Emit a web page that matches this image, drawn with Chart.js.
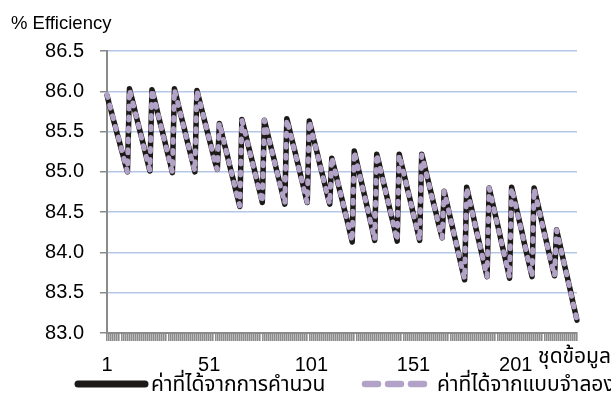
<!DOCTYPE html>
<html>
<head>
<meta charset="utf-8">
<script src="https://cdn.jsdelivr.net/npm/chart.js@4.4.1/dist/chart.umd.min.js"></script>
<style>
  html, body { margin: 0; padding: 0; background: #fff; }
  #wrap { width: 611px; height: 396px; position: relative; }
</style>
</head>
<body>
<div id="wrap"><canvas id="c" width="611" height="396"></canvas></div>
<script>
// ---- data ----
const yAxisTitle = '% Efficiency';
const xAxisTitle = 'ชุดข้อมูล';
const seriesNames = ['ค่าที่ได้จากการคำนวน', 'ค่าที่ได้จากแบบจำลอง'];
const xTickLabels = ['1', '51', '101', '151', '201'];
const yTicks = [83.0, 83.5, 84.0, 84.5, 85.0, 85.5, 86.0, 86.5];

const calculated = [
  85.95, 85.85, 85.76, 85.66, 85.57, 85.47, 85.38, 85.28, 85.19, 85.09, 85.00,
  86.03, 85.93, 85.83, 85.72, 85.62, 85.52, 85.42, 85.32, 85.21, 85.11, 85.01,
  86.02, 85.92, 85.82, 85.71, 85.61, 85.51, 85.41, 85.30, 85.20, 85.10, 84.99,
  86.03, 85.93, 85.82, 85.72, 85.62, 85.52, 85.41, 85.31, 85.21, 85.11, 85.00,
  86.01, 85.91, 85.81, 85.71, 85.61, 85.51, 85.41, 85.31, 85.21, 85.11, 85.03,
  85.60, 85.50, 85.39, 85.29, 85.19, 85.08, 84.98, 84.88, 84.77, 84.67, 84.57,
  85.65, 85.55, 85.45, 85.34, 85.24, 85.14, 85.04, 84.93, 84.83, 84.73, 84.62,
  85.64, 85.54, 85.43, 85.33, 85.23, 85.13, 85.02, 84.92, 84.82, 84.71, 84.60,
  85.66, 85.56, 85.45, 85.35, 85.25, 85.14, 85.04, 84.93, 84.83, 84.72, 84.62,
  85.63, 85.53, 85.42, 85.32, 85.22, 85.11, 85.01, 84.91, 84.80, 84.70, 84.60,
  85.17, 85.07, 84.97, 84.86, 84.76, 84.66, 84.55, 84.45, 84.35, 84.24, 84.13,
  85.26, 85.15, 85.04, 84.93, 84.82, 84.71, 84.60, 84.49, 84.38, 84.27, 84.15,
  85.22, 85.12, 85.01, 84.90, 84.80, 84.69, 84.58, 84.47, 84.37, 84.26, 84.14,
  85.22, 85.11, 85.01, 84.90, 84.79, 84.69, 84.58, 84.47, 84.37, 84.26, 84.15,
  85.22, 85.12, 85.01, 84.91, 84.80, 84.70, 84.59, 84.49, 84.38, 84.28, 84.18,
  84.76, 84.65, 84.54, 84.43, 84.32, 84.21, 84.10, 83.99, 83.88, 83.77, 83.66,
  84.81, 84.70, 84.59, 84.48, 84.36, 84.25, 84.14, 84.03, 83.92, 83.81, 83.70,
  84.80, 84.69, 84.58, 84.47, 84.36, 84.25, 84.13, 84.02, 83.91, 83.80, 83.68,
  84.81, 84.70, 84.59, 84.48, 84.37, 84.26, 84.14, 84.03, 83.92, 83.81, 83.70,
  84.80, 84.69, 84.58, 84.47, 84.36, 84.25, 84.14, 84.03, 83.92, 83.81, 83.71,
  84.28, 84.17, 84.06, 83.94, 83.83, 83.72, 83.61, 83.50, 83.38, 83.27, 83.16
];

const simulated = [
  85.96, 85.86, 85.76, 85.67, 85.57, 85.48, 85.38, 85.29, 85.19, 85.10, 85.00,
  86.02, 85.92, 85.82, 85.72, 85.62, 85.52, 85.41, 85.31, 85.21, 85.11, 85.02,
  86.02, 85.92, 85.81, 85.71, 85.61, 85.50, 85.40, 85.30, 85.20, 85.09, 85.00,
  86.02, 85.92, 85.82, 85.72, 85.61, 85.51, 85.41, 85.31, 85.20, 85.10, 85.01,
  86.01, 85.91, 85.81, 85.71, 85.61, 85.51, 85.41, 85.31, 85.20, 85.10, 85.03,
  85.61, 85.50, 85.40, 85.29, 85.19, 85.09, 84.98, 84.88, 84.78, 84.67, 84.58,
  85.64, 85.54, 85.44, 85.34, 85.23, 85.13, 85.03, 84.93, 84.82, 84.72, 84.62,
  85.64, 85.54, 85.43, 85.33, 85.22, 85.12, 85.02, 84.91, 84.81, 84.71, 84.61,
  85.65, 85.55, 85.45, 85.34, 85.24, 85.14, 85.03, 84.93, 84.82, 84.72, 84.62,
  85.63, 85.52, 85.42, 85.32, 85.21, 85.11, 85.01, 84.90, 84.80, 84.70, 84.60,
  85.18, 85.07, 84.97, 84.87, 84.76, 84.66, 84.56, 84.45, 84.35, 84.24, 84.14,
  85.25, 85.14, 85.03, 84.92, 84.81, 84.70, 84.60, 84.49, 84.38, 84.27, 84.16,
  85.22, 85.11, 85.01, 84.90, 84.79, 84.69, 84.58, 84.48, 84.37, 84.26, 84.15,
  85.21, 85.11, 85.00, 84.90, 84.79, 84.68, 84.58, 84.47, 84.36, 84.26, 84.15,
  85.21, 85.11, 85.00, 84.90, 84.80, 84.69, 84.59, 84.48, 84.38, 84.27, 84.18,
  84.76, 84.65, 84.54, 84.43, 84.32, 84.21, 84.10, 83.99, 83.88, 83.77, 83.67,
  84.80, 84.69, 84.58, 84.47, 84.36, 84.25, 84.14, 84.03, 83.92, 83.81, 83.70,
  84.80, 84.69, 84.58, 84.46, 84.35, 84.24, 84.13, 84.02, 83.91, 83.80, 83.69,
  84.80, 84.69, 84.58, 84.47, 84.36, 84.25, 84.14, 84.03, 83.92, 83.81, 83.70,
  84.79, 84.68, 84.57, 84.46, 84.35, 84.24, 84.13, 84.02, 83.91, 83.81, 83.71,
  84.28, 84.17, 84.05, 83.94, 83.83, 83.72, 83.61, 83.49, 83.38, 83.27, 83.16
];

// categories 1..N (data point number)
const categories = calculated.map((_, i) => String(i + 1));

// ---- styles ----
const latinFont = '"Liberation Sans", Arial, sans-serif';
const thaiFont = 'Tahoma, "Noto Sans Thai", "Noto Sans", "DejaVu Sans", sans-serif';
const calcColor = '#1c1a17';
const simColor = '#b3a2c7';

const decor = {
  id: 'decor',
  afterDraw(chart) {
    const ctx = chart.ctx;
    ctx.save();
    ctx.fillStyle = '#000';
    ctx.textBaseline = 'alphabetic';
    ctx.textAlign = 'left';
    ctx.font = '18.5px ' + latinFont;
    ctx.fillText(yAxisTitle, 11, 29);

    ctx.font = '21px ' + thaiFont;
    ctx.textAlign = 'right';
    ctx.fillText(xAxisTitle, 611, 363);

    // legend
    ctx.textAlign = 'left';
    ctx.lineCap = 'round';
    ctx.lineWidth = 7;
    ctx.strokeStyle = calcColor;
    ctx.setLineDash([]);
    ctx.beginPath(); ctx.moveTo(78, 384); ctx.lineTo(145, 384); ctx.stroke();
    ctx.fillText(seriesNames[0], 151, 391);

    ctx.lineWidth = 6.5;
    ctx.strokeStyle = simColor;
    ctx.setLineDash([13, 10]);
    ctx.beginPath(); ctx.moveTo(365, 384); ctx.lineTo(424, 384); ctx.stroke();
    ctx.setLineDash([]);
    ctx.fillText(seriesNames[1], 437, 391);
    ctx.restore();
  }
};

new Chart(document.getElementById('c'), {
  type: 'line',
  data: {
    labels: categories,
    datasets: [
      {
        label: seriesNames[0],
        data: calculated,
        borderColor: calcColor,
        borderWidth: 5.5,
        pointRadius: 0,
        tension: 0,
        borderJoinStyle: 'round',
        borderCapStyle: 'round',
        order: 2
      },
      {
        label: seriesNames[1],
        data: simulated,
        borderColor: simColor,
        borderWidth: 5,
        borderDash: [3, 8],
        pointRadius: 0,
        tension: 0,
        borderJoinStyle: 'round',
        borderCapStyle: 'round',
        order: 1
      }
    ]
  },
  options: {
    responsive: false,
    animation: false,
    devicePixelRatio: 1,
    layout: { padding: { left: 0, right: 34, top: 51, bottom: 0 } },
    plugins: {
      legend: { display: false },
      tooltip: { enabled: false },
      title: { display: false }
    },
    scales: {
      x: {
        type: 'category',
        offset: false,
        afterFit(scale) { scale.height = 63; },
        border: { display: true, color: '#8a8a8a', width: 2 },
        grid: {
          drawOnChartArea: false,
          drawTicks: true,
          tickLength: 8,
          tickColor: '#8c8c8c',
          lineWidth: 1.6,
          offset: false
        },
        ticks: {
          autoSkip: false,
          maxRotation: 0,
          minRotation: 0,
          padding: 12,
          color: '#000',
          font: { family: latinFont, size: 20 },
          callback(value, index) {
            const lab = categories[index];
            return xTickLabels.includes(lab) ? lab : '';
          }
        }
      },
      y: {
        min: 83,
        max: 86.5,
        afterFit(scale) { scale.width = 107; },
        afterBuildTicks(scale) { scale.ticks = yTicks.map(v => ({ value: v })); },
        border: { display: true, color: '#8a8a8a', width: 2 },
        grid: {
          color: '#b4c7e7',
          lineWidth: 1.5,
          drawTicks: true,
          tickLength: 7,
          tickColor: '#8a8a8a'
        },
        ticks: {
          padding: 16,
          color: '#000',
          font: { family: latinFont, size: 20 },
          callback(value) { return Number(value).toFixed(1); }
        }
      }
    }
  },
  plugins: [decor]
});
</script>
</body>
</html>
